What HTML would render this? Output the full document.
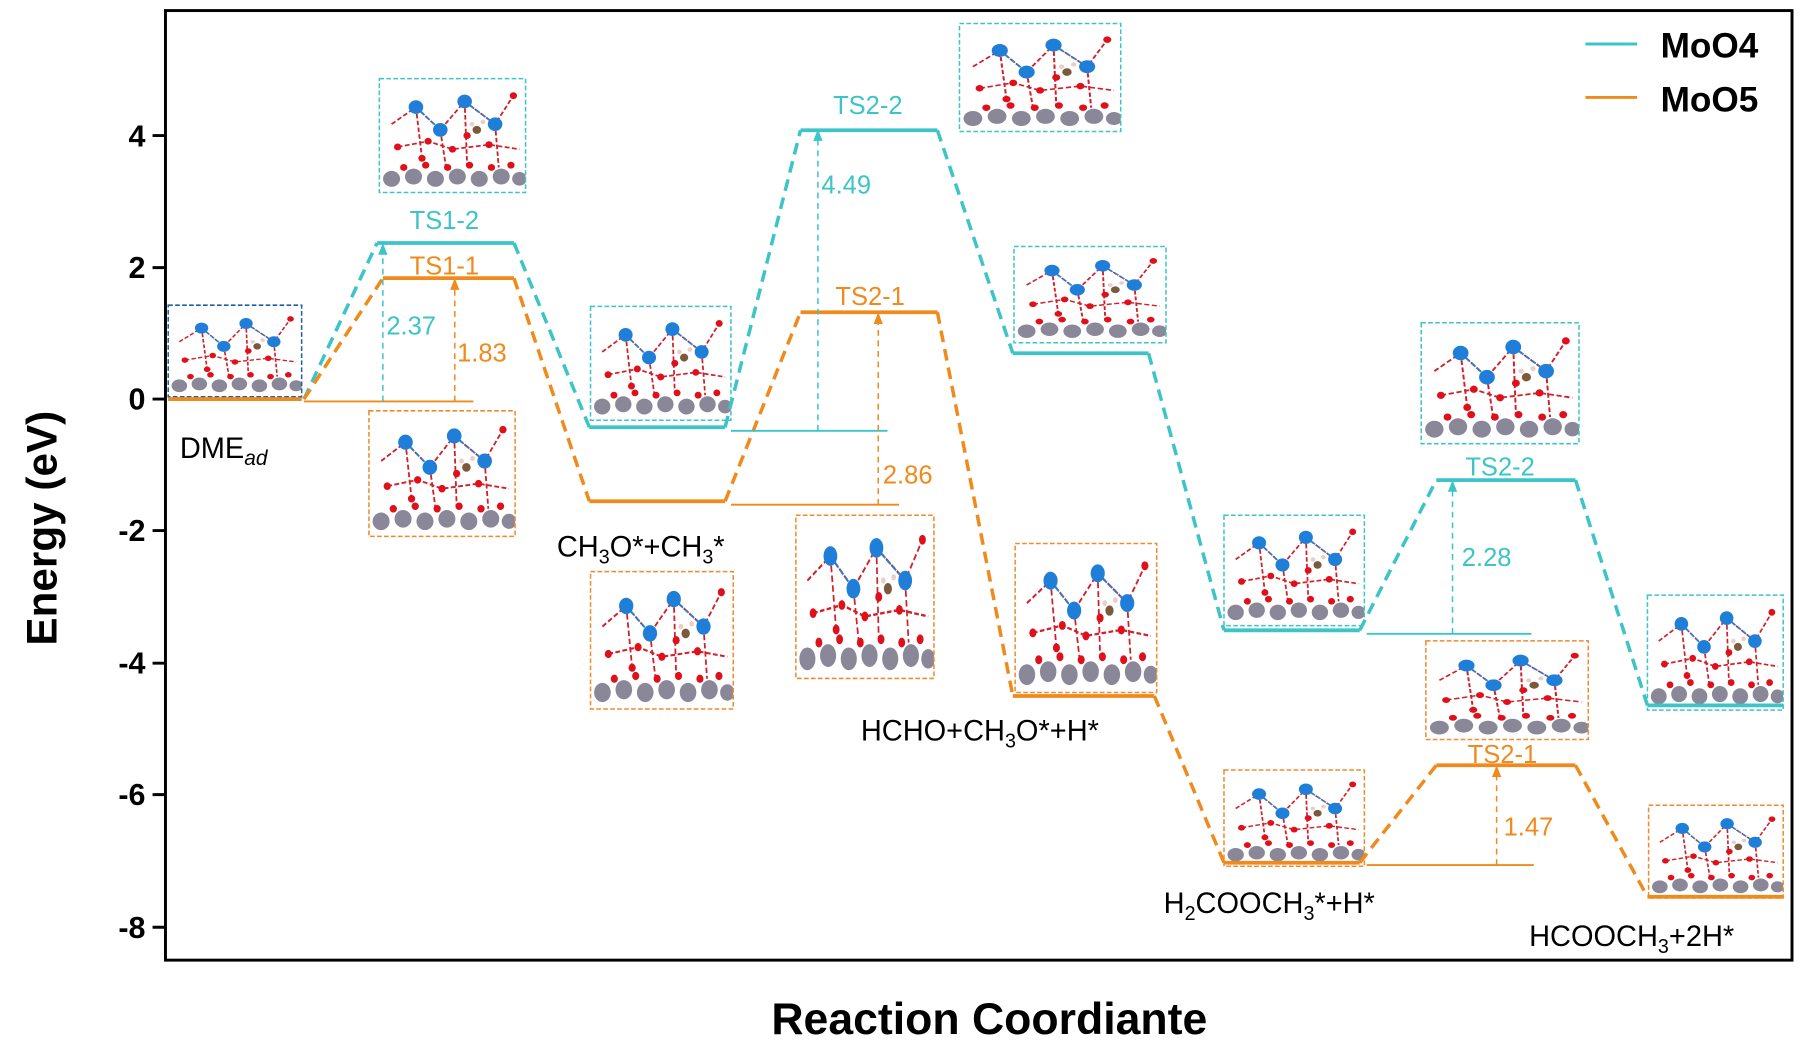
<!DOCTYPE html>
<html><head><meta charset="utf-8"><style>html,body{margin:0;padding:0;background:#fff}svg{display:block}</style></head>
<body>
<svg width="1819" height="1047" viewBox="0 0 1550 892" preserveAspectRatio="none" xmlns="http://www.w3.org/2000/svg" font-family="Liberation Sans, Arial, sans-serif">
<defs>
<symbol id="slab" viewBox="0 0 120 100" preserveAspectRatio="none">
<g stroke="#d0202a" stroke-width="1.5" fill="none">
<path d="M10 40 L30 25 L50 45 L70 20 L95 40 L110 15 M30 25 L35 70 M70 20 L72 75 M95 40 L98 78 M50 45 L55 80 M15 60 L40 55 L60 62 L90 58 L115 62"/>
</g>
<g stroke="#2a7fd0" stroke-width="1.5"><path d="M30 25 L50 45 M70 20 L95 40"/></g>
<g fill="#8a8898"><circle cx="10" cy="88" r="7"/><circle cx="28" cy="86" r="7"/><circle cx="46" cy="88" r="7"/><circle cx="64" cy="86" r="7"/><circle cx="82" cy="88" r="7"/><circle cx="100" cy="86" r="7"/><circle cx="115" cy="88" r="6"/></g>
<g fill="#e0101a"><circle cx="20" cy="78" r="3"/><circle cx="38" cy="76" r="3"/><circle cx="56" cy="78" r="3"/><circle cx="74" cy="76" r="3"/><circle cx="92" cy="78" r="3"/><circle cx="108" cy="76" r="3"/><circle cx="40" cy="55" r="3"/><circle cx="60" cy="62" r="3"/><circle cx="90" cy="58" r="3"/><circle cx="15" cy="60" r="3"/><circle cx="110" cy="15" r="3"/><circle cx="35" cy="70" r="3"/><circle cx="72" cy="50" r="3"/></g>
<g fill="#1f7fd8"><circle cx="30" cy="25" r="6"/><circle cx="50" cy="45" r="6"/><circle cx="70" cy="20" r="6"/><circle cx="95" cy="40" r="6"/></g>
<g fill="#7a5a3a"><circle cx="80" cy="45" r="3.5"/></g>
<g fill="#e8d0c8"><circle cx="85" cy="38" r="2"/><circle cx="76" cy="40" r="2"/></g>
</symbol>
</defs>
<g transform="scale(0.9886,1)">
<g stroke-width="1.3" stroke-dasharray="4 2" fill="none">
<use href="#slab" x="145" y="260" width="115" height="78"/><rect x="145" y="260" width="115" height="78" stroke="#2060a0"/>
<use href="#slab" x="327" y="67" width="126" height="97"/><rect x="327" y="67" width="126" height="97" stroke="#3cc4c8"/>
<use href="#slab" x="318" y="350" width="126" height="107"/><rect x="318" y="350" width="126" height="107" stroke="#f08a2a"/>
<use href="#slab" x="509" y="261" width="121" height="97"/><rect x="509" y="261" width="121" height="97" stroke="#3cc4c8"/>
<use href="#slab" x="509" y="487" width="123" height="117"/><rect x="509" y="487" width="123" height="117" stroke="#f08a2a"/>
<use href="#slab" x="827" y="20" width="139" height="92"/><rect x="827" y="20" width="139" height="92" stroke="#3cc4c8"/>
<use href="#slab" x="686" y="439" width="119" height="139"/><rect x="686" y="439" width="119" height="139" stroke="#f08a2a"/>
<use href="#slab" x="874" y="210" width="131" height="82"/><rect x="874" y="210" width="131" height="82" stroke="#3cc4c8"/>
<use href="#slab" x="875" y="463" width="122" height="127"/><rect x="875" y="463" width="122" height="127" stroke="#f08a2a"/>
<use href="#slab" x="1055" y="439" width="121" height="94"/><rect x="1055" y="439" width="121" height="94" stroke="#3cc4c8"/>
<use href="#slab" x="1055" y="656" width="121" height="82"/><rect x="1055" y="656" width="121" height="82" stroke="#f08a2a"/>
<use href="#slab" x="1225" y="275" width="136" height="103"/><rect x="1225" y="275" width="136" height="103" stroke="#3cc4c8"/>
<use href="#slab" x="1229" y="546" width="140" height="84"/><rect x="1229" y="546" width="140" height="84" stroke="#f08a2a"/>
<use href="#slab" x="1420" y="507" width="117" height="98"/><rect x="1420" y="507" width="117" height="98" stroke="#3cc4c8"/>
<use href="#slab" x="1421" y="686" width="116" height="79"/><rect x="1421" y="686" width="116" height="79" stroke="#f08a2a"/>
</g>
<g stroke-width="3.2" fill="none">
<g stroke="#3cc4c8">
<path d="M145 340H260 M325 207H443 M508 364H625 M690 111H808 M873 301H990 M1055 537H1172 M1238 409H1358 M1420 601H1537"/>
</g>
<g stroke="#f08a1c">
<path d="M145 340H260 M330 237H443 M508 427H625 M690 266H808 M873 593H995 M1055 735H1172 M1238 652H1358 M1420 764H1537"/>
</g>
</g>
<g stroke-width="3" fill="none" stroke-dasharray="10 6">
<path stroke="#3cc4c8" d="M262 340L325 207 M443 207L508 364 M625 364L690 111 M808 111L873 301 M990 301L1055 537 M1172 537L1238 409 M1358 409L1420 601"/>
<path stroke="#f08a1c" d="M262 340L330 237 M443 237L508 427 M625 427L690 266 M808 266L873 593 M995 593L1055 735 M1172 735L1238 652 M1358 652L1420 764"/>
</g>
<g stroke-width="1.6" fill="none">
<path stroke="#f08a1c" d="M262 342H408 M630 430H775 M1178 737H1322"/>
<path stroke="#3cc4c8" d="M630 367H765 M1178 540H1320"/>
</g>
<g stroke-width="1.3" fill="none" stroke-dasharray="5 4">
<path stroke="#3cc4c8" d="M330 342V215 M705 367V118 M1252 540V417"/>
<path stroke="#f08a1c" d="M392 342V245 M757 430V274 M1290 737V660"/>
</g>
<g>
<path fill="#3cc4c8" d="M330 207l-4 10h8z M705 110l-4 10h8z M1252 409l-4 10h8z"/>
<path fill="#f08a1c" d="M392 237l-4 10h8z M757 266l-4 10h8z M1290 652l-4 10h8z"/>
</g>
<g font-size="22">
<text x="333" y="285" fill="#3cc4c8">2.37</text>
<text x="394" y="308" fill="#f08a1c">1.83</text>
<text x="708" y="165" fill="#3cc4c8">4.49</text>
<text x="761" y="412" fill="#f08a1c">2.86</text>
<text x="1260" y="482" fill="#3cc4c8">2.28</text>
<text x="1296" y="712" fill="#f08a1c">1.47</text>
</g>
<g font-size="22" text-anchor="middle">
<text x="383" y="195" fill="#3cc4c8">TS1-2</text>
<text x="383" y="234" fill="#f08a1c">TS1-1</text>
<text x="748" y="97" fill="#3cc4c8">TS2-2</text>
<text x="750" y="260" fill="#f08a1c">TS2-1</text>
<text x="1293" y="405" fill="#3cc4c8">TS2-2</text>
<text x="1295" y="650" fill="#f08a1c">TS2-1</text>
</g>
<g font-size="25" fill="#000">
<text x="155" y="390">DME<tspan font-size="18" font-style="italic" dy="6">ad</tspan></text>
<text x="480" y="474">CH<tspan font-size="17" dy="6">3</tspan><tspan dy="-6">O*+CH</tspan><tspan font-size="17" dy="6">3</tspan><tspan dy="-6">*</tspan></text>
<text x="742" y="631">HCHO+CH<tspan font-size="17" dy="6">3</tspan><tspan dy="-6">O*+H*</tspan></text>
<text x="1003" y="778">H<tspan font-size="17" dy="6">2</tspan><tspan dy="-6">COOCH</tspan><tspan font-size="17" dy="6">3</tspan><tspan dy="-6">*+H*</tspan></text>
<text x="1318" y="806">HCOOCH<tspan font-size="17" dy="6">3</tspan><tspan dy="-6">+2H*</tspan></text>
</g>
</g>
<rect x="141" y="9" width="1386" height="809" fill="none" stroke="#000" stroke-width="2.5"/>
<g stroke="#000" stroke-width="2.5">
<path d="M130 115.5H141 M130 228H141 M130 340H141 M130 452H141 M130 565H141 M130 677H141 M130 790H141"/>
</g>
<g font-size="26" font-weight="bold" text-anchor="end">
<text x="124" y="125">4</text><text x="124" y="237">2</text><text x="124" y="349">0</text>
<text x="124" y="461">-2</text><text x="124" y="574">-4</text><text x="124" y="686">-6</text><text x="124" y="799">-8</text>
</g>
<text transform="translate(48,450) rotate(-90)" font-size="36" font-weight="bold" text-anchor="middle">Energy (eV)</text>
<text x="843" y="881" font-size="38" font-weight="bold" text-anchor="middle">Reaction Coordiante</text>
<path d="M1351 37.5H1395" stroke="#3cc4c8" stroke-width="2.5"/>
<path d="M1351 83H1395" stroke="#f08a1c" stroke-width="2.5"/>
<text x="1415" y="49" font-size="30" font-weight="bold">MoO4</text>
<text x="1415" y="95" font-size="30" font-weight="bold">MoO5</text>
</svg>
</body></html>
